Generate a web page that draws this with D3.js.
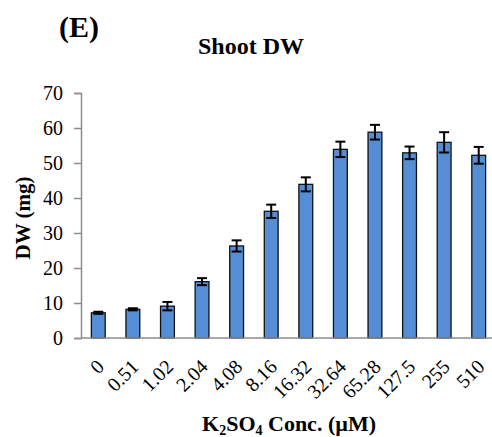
<!DOCTYPE html>
<html>
<head>
<meta charset="utf-8">
<script src="https://cdn.jsdelivr.net/npm/d3@7/dist/d3.min.js"></script>
<style>
  html, body { margin: 0; padding: 0; background: #fff; }
  svg { display: block; font-family: "Liberation Serif", "Times New Roman", serif; }
</style>
</head>
<body>
<svg id="chart" width="492" height="437"></svg>
<script>
// K2SO4 concentrations (µM) and shoot dry weight (mg) with error
const concentrations = ["0", "0.51", "1.02", "2.04", "4.08", "8.16", "16.32", "32.64", "65.28", "127.5", "255", "510"];
const shootDW = [7.2, 8.2, 9.1, 16.1, 26.3, 36.2, 43.9, 53.9, 58.8, 52.9, 55.9, 52.2];
const shootErr = [0.3, 0.3, 1.2, 1.0, 1.6, 1.9, 2.0, 2.2, 2.1, 1.8, 2.9, 2.4];
const yTicks = [0, 10, 20, 30, 40, 50, 60, 70];

const svg = d3.select("#chart");
const plotLeft = 81, plotRight = 496, plotTop = 93, plotBottom = 338;

const x = d3.scaleBand().domain(concentrations).range([plotLeft, plotRight]).paddingInner(0.6).paddingOuter(0.3);
const y = d3.scaleLinear().domain([0, 70]).range([plotBottom, plotTop]);

// y axis
const yAxis = svg.append("g")
  .attr("transform", `translate(${plotLeft},0)`)
  .call(d3.axisLeft(y).tickValues(yTicks).tickSize(7).tickPadding(11));
yAxis.select(".domain").attr("stroke", "#8c8c8c").attr("stroke-width", 1.5);
yAxis.selectAll(".tick line").attr("stroke", "#8c8c8c").attr("stroke-width", 1.5);
yAxis.selectAll(".tick text").attr("font-size", 20).attr("fill", "#000")
  .style("font-family", "Liberation Serif, Times New Roman, serif");

// bars
svg.append("g").selectAll("rect")
  .data(shootDW)
  .join("rect")
  .attr("x", (d, i) => x(concentrations[i]))
  .attr("y", d => y(d))
  .attr("width", x.bandwidth())
  .attr("height", d => y(0) - y(d))
  .attr("fill", "#558ed5")
  .attr("stroke", "#111")
  .attr("stroke-width", 1.3);

// error bars
const eb = svg.append("g").attr("stroke", "#000").attr("stroke-width", 2);
shootDW.forEach((v, i) => {
  const cx = x(concentrations[i]) + x.bandwidth() / 2;
  const hw = 5;
  const y1 = y(v + shootErr[i]), y2 = y(v - shootErr[i]);
  eb.append("line").attr("x1", cx).attr("x2", cx).attr("y1", y1).attr("y2", y2);
  eb.append("line").attr("x1", cx - hw).attr("x2", cx + hw).attr("y1", y1).attr("y2", y1);
  eb.append("line").attr("x1", cx - hw).attr("x2", cx + hw).attr("y1", y2).attr("y2", y2);
});

// x axis
const xAxis = svg.append("g")
  .attr("transform", `translate(0,${plotBottom})`)
  .call(d3.axisBottom(x).tickSize(0).tickPadding(0).tickSizeOuter(0));
xAxis.select(".domain").attr("stroke", "#8c8c8c").attr("stroke-width", 1.5)
  .attr("d", `M${plotLeft},0H${plotRight}`);
xAxis.selectAll(".tick text")
  .attr("font-size", 20).attr("fill", "#000")
  .style("font-family", "Liberation Serif, Times New Roman, serif")
  .attr("text-anchor", "end")
  .attr("dy", 0)
  .attr("transform", "translate(7,30) rotate(-45)");

// titles
svg.append("text").attr("x", 59).attr("y", 37)
  .attr("font-size", 30).attr("font-weight", "bold").text("(E)");
svg.append("text").attr("x", 251).attr("y", 54).attr("text-anchor", "middle")
  .attr("font-size", 24).attr("font-weight", "bold").text("Shoot DW");
svg.append("text")
  .attr("transform", `translate(30,218) rotate(-90)`)
  .attr("text-anchor", "middle")
  .attr("font-size", 21).attr("font-weight", "bold").text("DW (mg)");

const xt = svg.append("text").attr("x", 289).attr("y", 431).attr("text-anchor", "middle")
  .attr("font-size", 22).attr("font-weight", "bold");
xt.append("tspan").text("K");
xt.append("tspan").attr("font-size", 14).attr("dy", 4).text("2");
xt.append("tspan").attr("dy", -4).text("SO");
xt.append("tspan").attr("font-size", 14).attr("dy", 4).text("4");
xt.append("tspan").attr("dy", -4).text(" Conc. (\u00B5M)");
</script>
</body>
</html>
